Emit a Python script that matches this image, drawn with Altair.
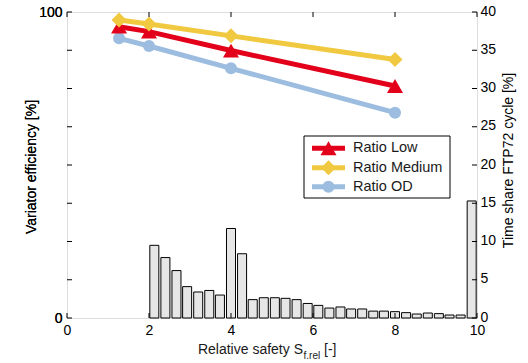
import altair as alt
import pandas as pd

# ---------------- data ----------------
x_settings = [1.27, 2, 4, 8]
ratio_low = [95.2, 93.6, 87.4, 75.8]
ratio_medium = [97.4, 96.1, 92.2, 84.5]
ratio_od = [91.4, 88.9, 81.6, 67.1]
series_names = ["Ratio Low", "Ratio Medium", "Ratio OD"]

bin_centers = [2.13, 2.40, 2.67, 2.93, 3.20, 3.47, 3.73, 4.00, 4.27, 4.53,
               4.80, 5.07, 5.33, 5.60, 5.87, 6.13, 6.40, 6.67, 6.93, 7.20,
               7.47, 7.73, 8.00, 8.27, 8.53, 8.80, 9.07, 9.33, 9.60, 9.87]
time_share = [9.5, 7.9, 6.2, 4.1, 3.4, 3.6, 3.0, 11.7, 8.4, 2.4,
              2.65, 2.65, 2.57, 2.4, 1.9, 1.65, 1.3, 1.44, 1.18, 1.18,
              0.9, 0.9, 0.83, 0.7, 0.52, 0.65, 0.57, 0.39, 0.39, 15.3]

x_ticks = [0, 2, 4, 6, 8, 10]
right_ticks = [0, 5, 10, 15, 20, 25, 30, 35, 40]
left_labels = [0, 100]
left_tick_positions = [0, 12.5, 25, 37.5, 50, 62.5, 75, 87.5, 100]

# ---------------- style ----------------
FONT = "Liberation Sans"
W, H = 410, 306
RED, YELLOW, BLUE = "#e3001b", "#f0c940", "#9cbde0"
TXT = "#1a1a1a"
TICK = 5

xscale = alt.Scale(domain=[0, 10], nice=False, zero=False)
yl = alt.Scale(domain=[0, 100], nice=False)
yr = alt.Scale(domain=[0, 40], nice=False)

xaxis = alt.Axis(values=x_ticks, ticks=False, domain=False, grid=False,
                 labelFontSize=14, labelPadding=5, title=None, labelFlush=False)

layers = []

# bars (right axis)
bars = alt.Chart(pd.DataFrame({"c": bin_centers, "v": time_share})).transform_calculate(
    x0="datum.c - 0.11", x1="datum.c + 0.11"
).mark_bar(fill="#e6e6e6", stroke="black", strokeWidth=1).encode(
    x=alt.X("x0:Q", scale=xscale, axis=xaxis),
    x2="x1:Q",
    y=alt.Y("v:Q", scale=yr, axis=alt.Axis(
        orient="right", values=right_ticks, ticks=False, domain=False, grid=False,
        labelFontSize=14, labelPadding=3, labelFlush=False, labelOffset=-1,
        title="Time share FTP72 cycle [%]", titleFontSize=14, titleFontWeight="normal",
        titleAngle=270, titleX=31, titleY=148, titleAlign="center", titleBaseline="middle")),
    y2=alt.datum(0),
)
layers.append(bars)


def series(vals, color, shape, size, axis=None):
    df = pd.DataFrame({"x": x_settings, "y": vals})
    base = alt.Chart(df).encode(
        x=alt.X("x:Q", scale=xscale, axis=xaxis),
        y=alt.Y("y:Q", scale=yl, axis=axis),
    )
    return [base.mark_line(color=color, strokeWidth=5),
            base.mark_point(shape=shape, filled=True, size=size, color=color, opacity=1)]


left_axis = alt.Axis(orient="left", values=left_labels, ticks=False, domain=False, grid=False,
                     labelFontSize=14, labelPadding=5, labelFlush=False,
                     title="Variator efficiency [%]", titleFontSize=14, titleFontWeight="normal",
                     titleAngle=270, titleX=-36, titleY=154.5, titleAlign="center",
                     titleBaseline="middle")

layers += series(ratio_od, BLUE, "circle", 144, left_axis)
layers += series(ratio_low, RED, "triangle-up", 256)
layers += series(ratio_medium, YELLOW, "diamond", 225)

# inward tick marks (left/right, bottom/top)
ydf = pd.DataFrame({"t": left_tick_positions})
for xa, xb in [(0, TICK), (W - TICK, W)]:
    layers.append(alt.Chart(ydf).mark_rule(color="black", strokeWidth=1).encode(
        y=alt.Y("t:Q", scale=yl, axis=None), x=alt.value(xa), x2=alt.value(xb)))
xdf = pd.DataFrame({"t": x_ticks})
for ya, yb in [(H, H - TICK), (0, TICK)]:
    layers.append(alt.Chart(xdf).mark_rule(color="black", strokeWidth=1).encode(
        x=alt.X("t:Q", scale=xscale, axis=xaxis), y=alt.value(ya), y2=alt.value(yb)))

# legend
one = pd.DataFrame({"a": [0]})
layers.append(alt.Chart(one).mark_rect(fill="white", stroke="black", strokeWidth=1).encode(
    x=alt.value(237), x2=alt.value(383), y=alt.value(124), y2=alt.value(186)))
leg_rows = [136.3, 155.7, 174.7]
leg_style = [(RED, "triangle-up", 256), (YELLOW, "diamond", 225), (BLUE, "circle", 144)]
for name, yy, (col, shp, sz) in zip(series_names, leg_rows, leg_style):
    d = pd.DataFrame({"name": [name]})
    layers.append(alt.Chart(d).mark_rule(color=col, strokeWidth=5).encode(
        x=alt.value(245), x2=alt.value(278), y=alt.value(yy)))
    layers.append(alt.Chart(d).mark_point(shape=shp, filled=True, size=sz, color=col, opacity=1).encode(
        x=alt.value(261.5), y=alt.value(yy)))
    layers.append(alt.Chart(d).mark_text(align="left", baseline="middle", fontSize=14.5,
                                         font=FONT, color=TXT).encode(
        x=alt.value(286), y=alt.value(yy), text="name:N"))

# x-axis title with subscript
t1 = alt.Chart(pd.DataFrame({"s": ["Relative safety S"]})).mark_text(
    align="right", baseline="alphabetic", fontSize=14, font=FONT, color=TXT).encode(
    x=alt.value(236), y=alt.value(342.3), text="s:N")
t2 = alt.Chart(pd.DataFrame({"s": ["f.rel"]})).mark_text(
    align="left", baseline="alphabetic", fontSize=10, font=FONT, color=TXT).encode(
    x=alt.value(236.5), y=alt.value(346.5), text="s:N")
t3 = alt.Chart(pd.DataFrame({"s": ["[-]"]})).mark_text(
    align="left", baseline="alphabetic", fontSize=14, font=FONT, color=TXT).encode(
    x=alt.value(257), y=alt.value(342.3), text="s:N")
layers += [t1, t2, t3]

chart = alt.layer(*layers).resolve_scale(y="independent").properties(
    width=W, height=H,
    padding={"left": 67, "top": 12, "right": 51, "bottom": 45},
    autosize=alt.AutoSizeParams(type="none"),
).configure_view(stroke="black", strokeWidth=1).configure_axis(
    labelFont=FONT, titleFont=FONT, labelColor=TXT, titleColor=TXT
).configure(background="white")

chart.save("out.html", embed_options={"renderer": "svg", "actions": False})
